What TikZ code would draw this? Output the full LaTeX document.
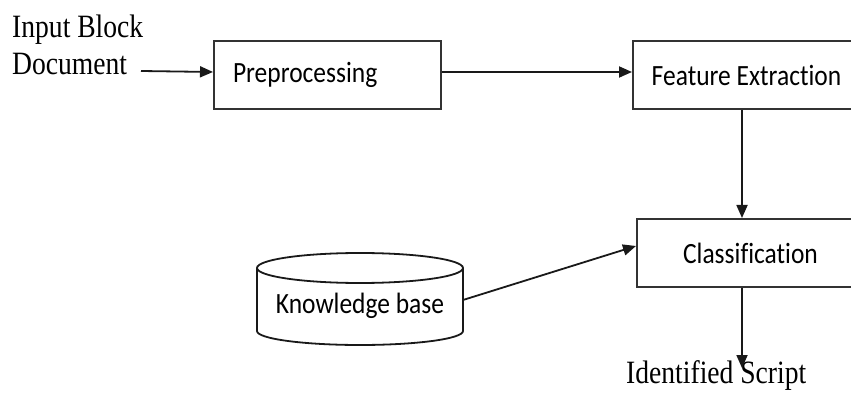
\documentclass[tikz,border=0pt]{standalone}
\usepackage{fontspec}
\setmainfont{Liberation Serif}
\newfontfamily\calfont[Ligatures={NoCommon,NoContextual}]{Carlito}
\usetikzlibrary{arrows.meta}
\newcommand{\sqz}[2]{\scalebox{#1}[1.05]{#2}}
\begin{document}
\begin{tikzpicture}[x=1pt,y=-1pt,
  line/.style={line width=1.8pt, draw=black!90},
  arr/.style={line, -{Triangle[length=13pt,width=11pt]}},
  box/.style={draw=black!80, line width=2pt, minimum width=227pt, minimum height=68pt,
    inner sep=0pt, font=\calfont\fontsize{28}{30}\selectfont, anchor=north west},
  serif/.style={font=\fontsize{31}{37}\selectfont, inner sep=0pt},
  sans/.style={font=\calfont\fontsize{28}{30}\selectfont, inner sep=0pt}]
\clip (0,0) rectangle (851,395);
% boxes
\node[box, align=left, text width=189pt, inner xsep=19pt] (pre) at (213,40) {\sqz{0.91}{Preprocessing}};
\node[box] (fe) at (632,40) {\sqz{0.91}{Feature Extraction}};
\node[box] (cls) at (636,218) {\sqz{0.91}{Classification}};
% knowledge base cylinder
\draw[line] (257,268) -- (257,331) arc[start angle=180, end angle=0, x radius=103, y radius=14] -- (463,268);
\draw[line] (360,268) ellipse [x radius=103, y radius=15];
\node[sans] (kb) at (360,306) {\sqz{0.91}{Knowledge base}};
% texts
\node[serif, align=left, anchor=north west] (inb) at (12,15) {\sqz{0.89}{Input Block}\\\sqz{0.89}{Document}};
\node[serif, anchor=base west] (out) at (626,383) {\sqz{0.89}{Identified Script}};
% coordinates
\coordinate (docend) at (141,71);
\coordinate (vx) at (742,0);
\coordinate (kbr) at (463,300);
\coordinate (outtip) at (742,368);
% connectors
\draw[arr] (docend) -- ([yshift=3pt]pre.west);
\draw[arr] ([yshift=3pt]pre.east) -- ([yshift=3pt]fe.west);
\draw[arr] (fe.south -| vx) -- (cls.north -| vx);
\draw[arr] (kbr) -- ([yshift=7pt]cls.west);
\draw[arr] (cls.south -| vx) -- (outtip);
\end{tikzpicture}
\end{document}
